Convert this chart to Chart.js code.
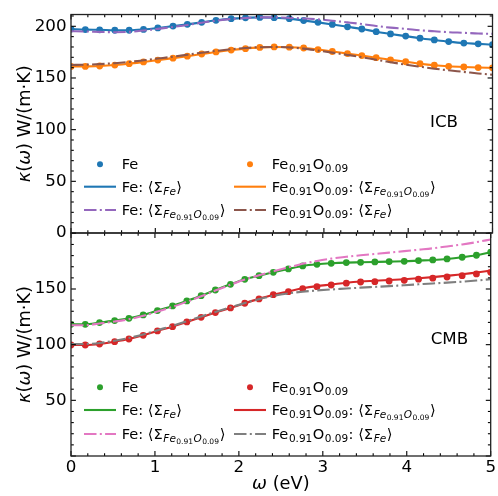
<!DOCTYPE html>
<html><head><meta charset="utf-8">
<script src="https://cdn.jsdelivr.net/npm/chart.js@4.4.1/dist/chart.umd.min.js"></script>
<style>
html,body{margin:0;padding:0;background:#fff;}
#wrap{position:relative;width:498px;height:496px;overflow:hidden;background:#fff;}
canvas{position:absolute;left:0;top:0;}
.t{position:absolute;font-family:"DejaVu Sans";color:#000;white-space:nowrap;line-height:1;transform:translateY(-50%);}
.leg{font-size:14.6px;}
.lbl{font-size:16.7px;}
.t sub{font-size:72%;vertical-align:baseline;position:relative;top:0.3em;margin-left:0.06em;margin-right:0.04em;}
.t sub sub{font-size:72%;top:0.25em;}
.t i{font-style:italic;}
</style></head>
<body>
<div id="wrap">
<canvas id="top" width="498" height="496"></canvas>
<canvas id="bot" width="498" height="496"></canvas>
</div>
<script>
// ---------- data ----------
const omega = [0,0.17,0.34,0.52,0.69,0.86,1.03,1.21,1.38,1.55,1.72,1.9,2.07,2.24,2.41,2.59,2.76,2.93,3.1,3.28,3.45,3.62,3.79,3.97,4.14,4.31,4.48,4.66,4.83,5.0];

// ICB panel
const icbFePoints   = [197.3,196.8,196.6,196.2,196.2,197.0,198.4,200.2,201.9,203.8,205.8,207.4,208.2,208.6,208.3,207.4,205.6,203.8,201.8,199.5,197.4,194.8,192.6,190.5,188.5,186.8,185.2,183.8,183.0,182.2];
const icbFeLine     = [197.3,196.8,196.6,196.2,196.2,197.0,198.4,200.2,201.9,203.8,205.8,207.4,208.2,208.6,208.3,207.4,205.6,203.8,201.8,199.5,197.4,194.8,192.6,190.5,188.5,186.8,185.2,183.8,183.0,182.2];
const icbFeSigFeO   = [195.2,195.0,194.6,194.3,194.6,195.9,197.5,199.4,201.3,203.5,205.4,207.0,208.0,208.6,208.6,208.2,207.6,206.7,205.4,203.8,202.2,200.3,198.7,197.5,196.2,195.2,194.3,193.7,193.0,192.7];
const icbFeOPoints  = [161.2,161.2,161.6,162.5,163.8,165.5,167.3,169.2,171.1,173.2,175.2,177.0,178.4,179.6,180.0,179.8,179.0,177.5,175.6,173.6,171.7,169.6,167.6,165.7,163.8,162.3,161.3,160.6,160.1,159.8];
const icbFeOLine    = [161.2,161.2,161.6,162.5,163.8,165.5,167.3,169.2,171.1,173.2,175.2,177.0,178.4,179.6,180.0,179.8,179.0,177.5,175.6,173.6,171.7,169.6,167.6,165.7,163.8,162.3,161.3,160.6,160.1,159.8];
const icbFeOSigFe   = [162.6,162.9,163.4,164.3,165.5,167.1,168.8,170.6,172.5,174.4,176.2,177.8,179.0,179.8,180.0,179.6,178.4,176.5,174.5,172.3,170.1,167.6,165.3,162.9,160.9,159.0,157.4,155.9,154.4,153.1];

// CMB panel
const cmbFePoints   = [118.3,118.3,119.8,121.6,123.7,126.7,130.6,134.8,139.3,144.0,149.1,154.2,158.7,162.0,165.0,168.0,170.7,172.2,173.1,173.7,174.0,174.3,174.6,174.9,175.5,176.1,177.0,178.5,180.3,183.0];
const cmbFeLine     = [118.3,118.3,119.8,121.6,123.7,126.7,130.6,134.8,139.3,144.0,149.1,154.2,158.7,162.0,165.0,168.0,170.7,172.2,173.1,173.7,174.0,174.3,174.6,174.9,175.5,176.1,177.0,178.5,180.3,183.0];
const cmbFeSigFeO   = [117.5,117.5,119.0,120.8,122.9,125.9,129.8,134.0,138.6,143.4,148.6,153.8,158.5,162.3,165.8,169.4,172.6,175.2,177.3,178.9,180.3,181.5,182.7,184.0,185.3,186.6,188.2,190.0,192.1,194.5];
const cmbFeOPoints  = [99.7,99.7,100.6,102.7,105.1,108.4,112.3,116.2,120.4,124.6,128.8,133.0,137.2,141.1,144.9,147.6,150.3,152.1,153.6,155.2,156.3,156.6,157.2,157.8,158.8,159.7,160.8,162.0,163.5,165.0];
const cmbFeOLine    = [99.7,99.7,100.6,102.7,105.1,108.4,112.3,116.2,120.4,124.6,128.8,133.0,137.2,141.1,144.9,147.8,150.6,152.6,154.0,155.6,156.7,157.4,158.1,158.8,159.7,160.7,161.9,163.2,164.7,166.5];
const cmbFeOSigFe   = [100.5,100.6,101.5,103.5,106.0,109.2,113.0,117.0,121.1,125.3,129.4,133.5,137.4,140.9,143.8,146.0,147.6,148.7,149.6,150.4,151.2,151.9,152.6,153.4,154.2,155.0,155.7,156.6,157.6,158.8];

// ticks
const xTickLabels = [0,1,2,3,4,5];
const icbYTicks = [0,50,100,150,200];
const cmbYTicks = [50,100,150];

// ---------- helpers ----------
const C = {blue:'#1f77b4',orange:'#ff7f0e',green:'#2ca02c',red:'#d62728',purple:'#9467bd',brown:'#8c564b',pink:'#e377c2',gray:'#7f7f7f'};
const DASHDOT = [12.5,3.3,2,3.3];
const FONT = "'DejaVu Sans'";
const pts = arr => omega.map((x,i)=>({x, y: arr[i]}));
function scatterDs(label, arr, color, order){
  return {label, data: pts(arr), showLine:false, pointRadius:3.4, pointHoverRadius:3.4,
    pointBackgroundColor:color, pointBorderWidth:0, borderColor:color, backgroundColor:color, order};
}
function lineDs(label, arr, color, order, dash){
  return {label, data: pts(arr), borderColor:color, borderWidth:2.1, pointRadius:0, pointHoverRadius:0,
    cubicInterpolationMode:'monotone', borderDash: dash || [], fill:false, order};
}

function drawParts(ctx, parts, cx, cy, rotate, size){
  ctx.save();
  ctx.translate(cx, cy);
  if (rotate) ctx.rotate(-Math.PI/2);
  ctx.textBaseline = 'middle';
  ctx.textAlign = 'left';
  ctx.fillStyle = '#000';
  let total = 0;
  const ws = parts.map(p => { ctx.font = (p.it ? 'italic ' : '') + size + 'px ' + FONT; const w = ctx.measureText(p.t).width; total += w; return w; });
  let x = -total/2;
  parts.forEach((p,i) => { ctx.font = (p.it ? 'italic ' : '') + size + 'px ' + FONT; ctx.fillText(p.t, x, 0); x += ws[i]; });
  ctx.restore();
}
const yTitle = [{t:'\u03ba',it:1},{t:'(',it:0},{t:'\u03c9',it:1},{t:') W/(m\u00b7K)',it:0}];
const xTitle = [{t:'\u03c9',it:1},{t:' (eV)',it:0}];

const deco = {
  id:'deco',
  afterDatasetsDraw(chart, args, o){
    const ctx = chart.ctx, a = chart.chartArea, xs = chart.scales.x, ys = chart.scales.y;
    ctx.save();
    ctx.strokeStyle = '#000'; ctx.lineWidth = 1.1;
    const seg = (x1,y1,x2,y2)=>{ctx.beginPath();ctx.moveTo(x1,y1);ctx.lineTo(x2,y2);ctx.stroke();};
    for (let i=0;i<=25;i++){
      const v = i*0.2, L = (i%5===0) ? 4.9 : 2.8, px = xs.getPixelForValue(v);
      seg(px,a.bottom,px,a.bottom-L); seg(px,a.top,px,a.top+L);
    }
    for (let i=0;i*10<=o.yMax;i++){
      const v = i*10, L = (i%5===0) ? 4.9 : 2.8, py = ys.getPixelForValue(v);
      seg(a.left,py,a.left+L,py); seg(a.right,py,a.right-L,py);
    }
    ctx.lineWidth = 1.3; ctx.strokeStyle = '#222';
    ctx.strokeRect(a.left, a.top, a.right-a.left, a.bottom-a.top);
    drawParts(ctx, yTitle, 25, (a.top+a.bottom)/2, true, 17.8);
    if (o.xTitle) drawParts(ctx, xTitle, (a.left+a.right)/2, 484, false, 17.8);
    // legend handles
    (o.handles||[]).forEach(h => {
      ctx.save();
      if (h.kind === 'dot'){
        ctx.fillStyle = h.color; ctx.beginPath(); ctx.arc(h.x, h.y, 3, 0, Math.PI*2); ctx.fill();
      } else {
        ctx.strokeStyle = h.color; ctx.lineWidth = 2.1;
        ctx.setLineDash(h.kind==='dash' ? DASHDOT : []);
        seg(h.x-16, h.y, h.x+16, h.y);
      }
      ctx.restore();
    });
    ctx.restore();
  }
};

function tickFont(){ return {family:'DejaVu Sans', size:16.7}; }

function makeChart(id, sets, yMax, yTicks, isBottom, handles){
  const xScale = isBottom ? {
      type:'linear', min:0, max:5,
      afterFit(s){ s.height = 40; },
      afterBuildTicks(s){ s.ticks = xTickLabels.map(v=>({value:v})); },
      grid:{display:false, drawTicks:false}, border:{display:false},
      ticks:{padding:2, color:'#000', font:tickFont(), maxRotation:0, autoSkip:false}
    } : {type:'linear', min:0, max:5, display:false};
  return new Chart(document.getElementById(id), {
    type:'line',
    data:{datasets:sets},
    options:{
      responsive:false, animation:false, devicePixelRatio:1, events:[],
      layout:{padding: isBottom ? {left:0,right:5.5,top:233,bottom:0} : {left:0,right:5.5,top:11,bottom:263}},
      plugins:{legend:{display:false}, tooltip:{enabled:false}, deco:{yMax, xTitle:isBottom, handles}},
      scales:{
        x: xScale,
        y:{type:'linear', min:0, max:yMax,
          afterFit(s){ s.width = 71; },
          afterBuildTicks(s){ s.ticks = yTicks.map(v=>({value:v})); },
          grid:{display:false, drawTicks:false}, border:{display:false},
          ticks:{padding:4.5, color:'#000', font:tickFont()}}
      }
    },
    plugins:[deco]
  });
}

const topSets = [
  scatterDs('Fe', icbFePoints, C.blue, 6),
  lineDs('Fe: Σ_Fe', icbFeLine, C.blue, 5),
  lineDs('Fe: Σ_FeO', icbFeSigFeO, C.purple, 4, DASHDOT),
  scatterDs('Fe0.91O0.09', icbFeOPoints, C.orange, 3),
  lineDs('FeO: Σ_FeO', icbFeOLine, C.orange, 2),
  lineDs('FeO: Σ_Fe', icbFeOSigFe, C.brown, 1, DASHDOT)
];
const botSets = [
  scatterDs('Fe', cmbFePoints, C.green, 6),
  lineDs('Fe: Σ_Fe', cmbFeLine, C.green, 5),
  lineDs('Fe: Σ_FeO', cmbFeSigFeO, C.pink, 4, DASHDOT),
  scatterDs('Fe0.91O0.09', cmbFeOPoints, C.red, 3),
  lineDs('FeO: Σ_FeO', cmbFeOLine, C.red, 2),
  lineDs('FeO: Σ_Fe', cmbFeOSigFe, C.gray, 1, DASHDOT)
];
const rowsTop = [164.3, 186.7, 210];
const rowsBot = [387.3, 410, 434];
const handlesFor = (rows, c1, c2, c3, c4, c5, c6) => [
  {kind:'dot', x:100, y:rows[0], color:c1}, {kind:'line', x:100, y:rows[1], color:c2}, {kind:'dash', x:100, y:rows[2], color:c3},
  {kind:'dot', x:250, y:rows[0], color:c4}, {kind:'line', x:250, y:rows[1], color:c5}, {kind:'dash', x:250, y:rows[2], color:c6}
];
makeChart('top', topSets, 211.4, icbYTicks, false, handlesFor(rowsTop, C.blue, C.blue, C.purple, C.orange, C.orange, C.brown));
makeChart('bot', botSets, 200.3, cmbYTicks, true, handlesFor(rowsBot, C.green, C.green, C.pink, C.red, C.red, C.gray));

// ---------- text overlays ----------
const FeO = 'Fe<sub>0.91</sub>O<sub>0.09</sub>';
const sigFe = '\u27e8\u03a3<sub><i>Fe</i></sub>\u27e9';
const sigFeO = '\u27e8\u03a3<sub><i>Fe</i><sub>0.91</sub><i>O</i><sub>0.09</sub></sub>\u27e9';
const legendTexts = ['Fe', 'Fe: ' + sigFe, 'Fe: ' + sigFeO, FeO, FeO + ': ' + sigFeO, FeO + ': ' + sigFe];
const wrap = document.getElementById('wrap');
function addText(html, cls, left, top){
  const d = document.createElement('div');
  d.className = 't ' + cls; d.innerHTML = html;
  d.style.left = left + 'px'; d.style.top = top + 'px';
  wrap.appendChild(d);
}
[rowsTop, rowsBot].forEach(rows => {
  legendTexts.forEach((txt, i) => addText(txt, 'leg', i < 3 ? 121.7 : 271.7, rows[i % 3]));
});
addText('ICB', 'lbl', 430, 121);
addText('CMB', 'lbl', 430.7, 338.3);
</script>
</body></html>
